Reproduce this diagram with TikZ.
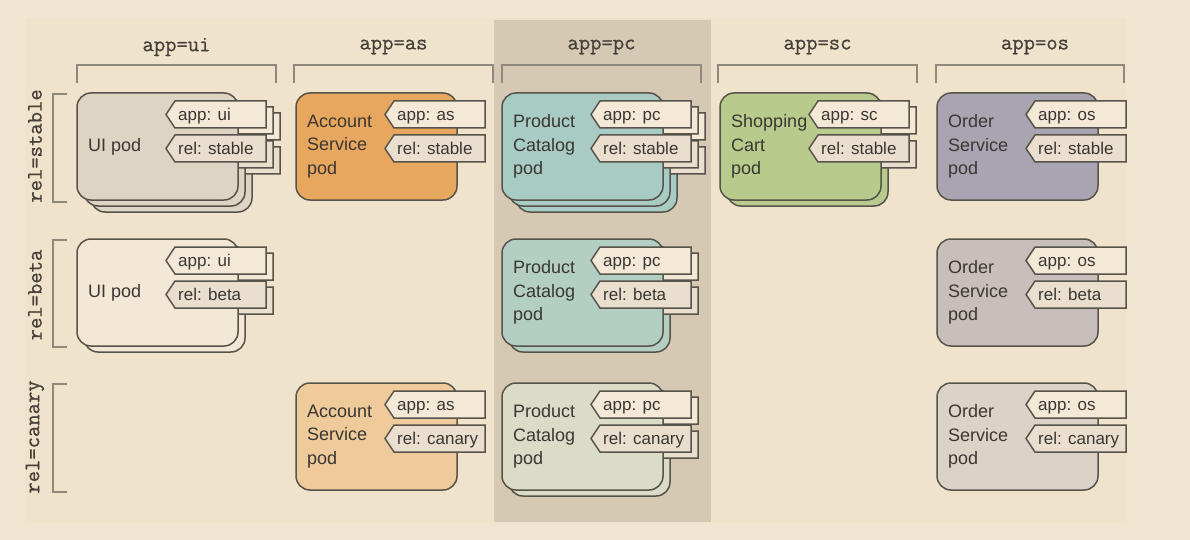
\documentclass[tikz,border=0pt]{standalone}
\usepackage{fontspec}
\newfontfamily\podff{Liberation Sans}
\newfontfamily\hdrff{Latin Modern Mono}[FakeBold=0.8]
\definecolor{bgout}{HTML}{F1E6D1}
\definecolor{bgin}{HTML}{F0E3CB}
\definecolor{hilite}{HTML}{D6C9B3}
\definecolor{linec}{HTML}{57524A}
\definecolor{brc}{HTML}{8E887E}
\definecolor{textc}{HTML}{3A3632}
\definecolor{hdrc}{HTML}{45403A}
\definecolor{tagA}{HTML}{F4E9D7}
\definecolor{tagR}{HTML}{EADFCE}
\definecolor{uiS}{HTML}{DDD4C4}
\definecolor{uiB}{HTML}{F3E8D6}
\definecolor{asS}{HTML}{E8A75E}
\definecolor{asC}{HTML}{EFCA9B}
\definecolor{pcS}{HTML}{A8CBC3}
\definecolor{pcB}{HTML}{B3CFC4}
\definecolor{pcC}{HTML}{DADCC8}
\definecolor{scS}{HTML}{B8CB8D}
\definecolor{osS}{HTML}{A9A4B2}
\definecolor{osB}{HTML}{C8BFBD}
\definecolor{osC}{HTML}{DCD3C8}
\tikzset{
  podbox/.style={draw=linec, line width=1.5pt, rounded corners=14pt},
  tagshape/.style={draw=linec, line width=1.5pt},
  podtext/.style={font=\podff\fontsize{18}{23.5}\selectfont, align=left, anchor=west, text=textc, inner sep=0pt},
  tagtext/.style={font=\podff\fontsize{17}{20}\selectfont, anchor=base west, inner sep=0pt, text=textc},
  bracket/.style={draw=brc, line width=1.6pt},
  hdr/.style={font=\hdrff\fontsize{22}{24}\selectfont, text=hdrc, inner sep=0pt},
}
% back layer: x y fill
\newcommand\podshape[3]{%
  \filldraw[podbox, fill=#3] (#1,#2) rectangle ++(161,107);
  \filldraw[tagshape, fill=tagA] (#1+89,#2+21.5) -- (#1+98,#2+8) -- (#1+189,#2+8) -- (#1+189,#2+35) -- (#1+98,#2+35) -- cycle;
  \filldraw[tagshape, fill=tagR] (#1+89,#2+55.5) -- (#1+98,#2+42) -- (#1+189,#2+42) -- (#1+189,#2+69) -- (#1+98,#2+69) -- cycle;
}
% layers x y fill label app rel name
\newcommand\podstack[8]{%
  \ifnum#1>2 \podshape{#2+14}{#3+12}{#4}\fi
  \ifnum#1>1 \podshape{#2+7}{#3+6}{#4}\fi
  \podshape{#2}{#3}{#4}
  \node[podtext] (#8) at (#2+11,#3+53.5) {#5};
  \node[tagtext] (#8-app) at (#2+101,#3+27.5) {#6};
  \node[tagtext] (#8-rel) at (#2+101,#3+61.5) {#7};
}
\begin{document}
\begin{tikzpicture}[x=1pt,y=-1pt]
\useasboundingbox (0,0) rectangle (1190,540);
\fill[bgout] (0,0) rectangle (1190,540);
\fill[bgin] (25,18) rectangle (1127,523);
\fill[hilite] (494,20) rectangle (711,522);
% column headers
\node[hdr] (h-ui) at (176.5,47) {app=ui};
\node[hdr] (h-as) at (393.5,47) {app=as};
\node[hdr] (h-pc) at (601.5,47) {app=pc};
\node[hdr] (h-sc) at (817.5,47) {app=sc};
\node[hdr] (h-os) at (1035,47) {app=os};
\draw[bracket] (77,83) -- (77,65) -- (276,65) -- (276,83);
\draw[bracket] (294,83) -- (294,65) -- (493,65) -- (493,83);
\draw[bracket] (502,83) -- (502,65) -- (701,65) -- (701,83);
\draw[bracket] (718,83) -- (718,65) -- (917,65) -- (917,83);
\draw[bracket] (936,83) -- (936,65) -- (1124,65) -- (1124,83);
% row headers
\node[hdr, rotate=90] (r-st) at (35,146) {rel=stable};
\node[hdr, rotate=90] (r-be) at (35,295) {rel=beta};
\node[hdr, rotate=90] (r-ca) at (35,437) {rel=canary};
\draw[bracket] (67,94) -- (53,94) -- (53,202) -- (67,202);
\draw[bracket] (67,240) -- (53,240) -- (53,347) -- (67,347);
\draw[bracket] (67,384) -- (53,384) -- (53,492) -- (67,492);
% row stable
\podstack{3}{77}{93}{uiS}{UI pod}{app: ui}{rel: stable}{ui-st}
\podstack{1}{296}{93}{asS}{Account\\Service\\pod}{app: as}{rel: stable}{as-st}
\podstack{3}{502}{93}{pcS}{Product\\Catalog\\pod}{app: pc}{rel: stable}{pc-st}
\podstack{2}{720}{93}{scS}{Shopping\\Cart\\pod}{app: sc}{rel: stable}{sc-st}
\podstack{1}{937}{93}{osS}{Order\\Service\\pod}{app: os}{rel: stable}{os-st}
% row beta
\podstack{2}{77}{239}{uiB}{UI pod}{app: ui}{rel: beta}{ui-be}
\podstack{2}{502}{239}{pcB}{Product\\Catalog\\pod}{app: pc}{rel: beta}{pc-be}
\podstack{1}{937}{239}{osB}{Order\\Service\\pod}{app: os}{rel: beta}{os-be}
% row canary
\podstack{1}{296}{383}{asC}{Account\\Service\\pod}{app: as}{rel: canary}{as-ca}
\podstack{2}{502}{383}{pcC}{Product\\Catalog\\pod}{app: pc}{rel: canary}{pc-ca}
\podstack{1}{937}{383}{osC}{Order\\Service\\pod}{app: os}{rel: canary}{os-ca}
\end{tikzpicture}
\end{document}
